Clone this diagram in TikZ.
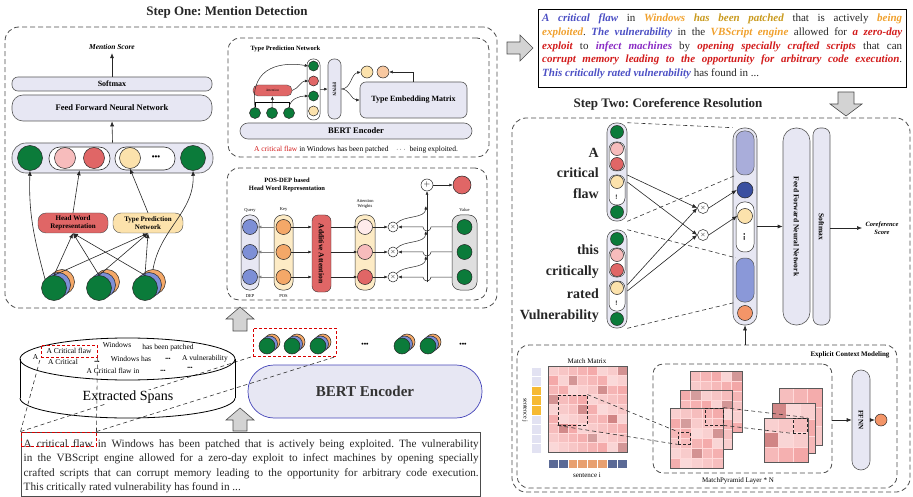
\documentclass[tikz,border=0pt]{standalone}
\usepackage{fontspec}
\setmainfont{Liberation Serif}
\usetikzlibrary{arrows.meta,calc}
\definecolor{lav}{HTML}{E7E7F3}
\definecolor{gG}{HTML}{0B7B3A}
\definecolor{gPink}{HTML}{F7BCBC}
\definecolor{gRed}{HTML}{E06666}
\definecolor{gYel}{HTML}{FCE2AC}
\definecolor{gOra}{HTML}{F4A868}
\definecolor{gBlue}{HTML}{7D8FD6}
\definecolor{gPeach}{HTML}{F8C8A0}
\definecolor{gArr}{HTML}{D3D3D3}
\definecolor{tB}{HTML}{4B4FC4}
\definecolor{tO}{HTML}{F0A02C}
\definecolor{tG}{HTML}{C99A1E}
\definecolor{tR}{HTML}{D21B1B}
\definecolor{tP}{HTML}{8A2BC4}
\definecolor{bLav}{HTML}{A9ADDA}
\definecolor{bDB}{HTML}{3A4FA0}
\definecolor{bMB}{HTML}{8A98D8}
\definecolor{bOr}{HTML}{F39568}
\definecolor{sBl}{HTML}{5B6A96}
\definecolor{sOr}{HTML}{E8A070}
\definecolor{sYe}{HTML}{F6B932}
\definecolor{sLv}{HTML}{E2E2F2}
\definecolor{hmA}{HTML}{EE8080}
\definecolor{hmD}{HTML}{A85858}
\newcommand\bx[7]{%
  \pgfmathsetmacro\bxw{#4-#2}\pgfmathsetmacro\bxh{#5-#3}%
  \node[inner sep=0pt, minimum width=\bxw pt, minimum height=\bxh pt, #6] (#1) at ({(#2+#4)/2},{(#3+#5)/2}) {#7};}
\newcommand\stk[6]{%
  \node[circ, fill=gOra, minimum size=#4pt] (#1o) at ({#2+2*#5},{#3-2*#6}) {};
  \node[circ, fill=gBlue, minimum size=#4pt] (#1b) at ({#2+#5},{#3-#6}) {};
  \node[circ, fill=gG, minimum size=#4pt] (#1) at (#2,#3) {};}
\newcommand\hmap[7]{%
  \pgfmathsetmacro\hcw{(#3-#1)/#5}\pgfmathsetmacro\hch{(#4-#2)/#6}%
  \foreach \i in {1,...,#5}{\foreach \j in {1,...,#6}{%
    \pgfmathtruncatemacro\pp{mod(\i*47+\j*29+#7*13,40)+30}%
    \pgfmathtruncatemacro\kk{mod(\i*7+\j*11+#7*5,8)==0 ? 45 : 0}%
    \fill[hmA!\pp!white] ({#1+(\i-1)*\hcw},{#2+(\j-1)*\hch}) rectangle ({#1+\i*\hcw},{#2+\j*\hch});
    \fill[hmD, opacity=\kk/100] ({#1+(\i-1)*\hcw},{#2+(\j-1)*\hch}) rectangle ({#1+\i*\hcw},{#2+\j*\hch});}}%
  \foreach \i in {1,...,#5}{\draw[white!85!red, line width=0.4pt] ({#1+\i*\hcw},#2) -- ({#1+\i*\hcw},#4);}%
  \foreach \j in {1,...,#6}{\draw[white!85!red, line width=0.4pt] (#1,{#2+\j*\hch}) -- (#3,{#2+\j*\hch});}%
  \draw[gray!70!black, line width=0.5pt] (#1,#2) rectangle (#3,#4);}
\newcommand\tcB[1]{{\color{tB}\bfseries\itshape #1}}
\newcommand\tcO[1]{{\color{tO}\bfseries\itshape #1}}
\newcommand\tcG[1]{{\color{tG}\bfseries\itshape #1}}
\newcommand\tcR[1]{{\color{tR}\bfseries\itshape #1}}
\newcommand\tcP[1]{{\color{tP}\bfseries\itshape #1}}
\frenchspacing
\begin{document}
\begin{tikzpicture}[x=1pt,y=-1pt,
  lavbox/.style={draw=gray!70!black, fill=lav, line width=0.6pt},
  dpanel/.style={draw=black!70, dash pattern=on 5pt off 3pt, rounded corners=14pt, line width=0.8pt},
  circ/.style={circle, draw=black!85, line width=0.5pt, inner sep=0pt},
  arr/.style={-{Latex[length=5pt,width=4pt]}, line width=0.6pt, black!85},
  sarr/.style={-{Latex[length=3.5pt,width=3pt]}, line width=0.5pt, black!85},
  dline/.style={dash pattern=on 4pt off 3pt, line width=0.6pt, black!80},
  rdash/.style={draw=red!85!black, dash pattern=on 3pt off 2pt, line width=0.9pt},
  garrow/.style={fill=gArr, draw=black!70, line width=0.6pt},
  ttl/.style={font=\bfseries\fontsize{13}{15}\selectfont, text=black!85}]
\useasboundingbox (0,0) rectangle (913,497);

% ================= STEP ONE =================
\node[ttl] (t1) at (227,12) {Step One: Mention Detection};
\bx{p1}{5}{27}{497}{308}{dpanel}{}

\node[font=\bfseries\itshape\fontsize{7.5}{9}\selectfont] (ms) at (112,47) {Mention Score};
\bx{sm}{12}{77}{212}{91}{lavbox, rounded corners=6pt, font=\bfseries\fontsize{8}{9}\selectfont}{Softmax}
\bx{ffn}{12}{95}{212}{121}{lavbox, rounded corners=11pt, font=\bfseries\fontsize{8.5}{10}\selectfont}{Feed Forward Neural Network}
\draw[arr] (sm.north) -- (ms.south);
\bx{row}{12}{143}{213}{173}{lavbox, rounded corners=14pt}{}
\draw[arr] (row.north) -- (ffn.south);
\node[circ, fill=gG, minimum size=25pt] (c1) at (30,158) {};
\bx{wp1}{49}{147}{110}{170}{draw=black!80, fill=white, line width=0.6pt, rounded corners=11pt}{}
\node[circ, fill=gPink, minimum size=21pt] (c2) at (65,158) {};
\node[circ, fill=gRed, minimum size=21pt] (c3) at (94,158) {};
\bx{wp2}{115}{147}{175}{170}{draw=black!80, fill=white, line width=0.6pt, rounded corners=11pt}{}
\node[circ, fill=gYel, minimum size=21pt] (c4) at (130,158) {};
\node[font=\bfseries\fontsize{8}{8}\selectfont] (c5) at (156,158) {\textbullet\textbullet\textbullet};
\node[circ, fill=gG, minimum size=25pt] (c6) at (193,158) {};

\bx{hwr}{38}{213}{108}{233}{draw=black!70, fill=gRed, rounded corners=8pt, font=\bfseries\fontsize{7}{8}\selectfont, align=center}{Head Word\\Representation}
\bx{tpn}{113}{213}{183}{233}{draw=black!70, fill=gYel, rounded corners=8pt, font=\bfseries\fontsize{7}{8}\selectfont, align=center}{Type Prediction\\Network}

\stk{s1}{54}{288}{25}{4}{3}
\stk{s2}{99}{288}{25}{4}{3}
\stk{s3}{145}{288}{25}{4}{3}
\foreach \s in {s1,s2,s3}{
  \draw[arr] (\s.north) -- (hwr.south);
  \draw[arr] (\s.north) -- (tpn.south);}
\draw[arr] (s1.north west) to[out=105,in=-92] (c1.south);
\draw[arr] (s3o.north) to[out=80,in=-88] (c6.south);
\draw[arr] (hwr.north) -- (wp1.south);
\draw[arr] (tpn.north) -- (c4.south);

% --- Type prediction network sub-box
\bx{tpbox}{228}{38}{489}{157}{dpanel, rounded corners=12pt}{}
\node[anchor=west, font=\bfseries\fontsize{6.5}{8}\selectfont] (tpt) at (247,49) {Type Prediction Network};
\node[circ, fill=gG, minimum size=11pt] (g1) at (255,113) {};
\node[circ, fill=gG, minimum size=11pt] (g2) at (272,113) {};
\node[circ, fill=gG, minimum size=11pt] (g3) at (289,113) {};
\bx{att}{253}{85}{292}{96}{draw=black!70, fill=gRed, rounded corners=5pt, font=\fontsize{3.5}{4}\selectfont}{Attention}
\bx{col}{307}{59}{320}{120}{draw=black!80, fill=white, line width=0.5pt, rounded corners=6pt}{}
\node[circ, fill=gG, minimum size=10pt] (k1) at (313.5,66) {};
\node[circ, fill=gRed, minimum size=10pt] (k2) at (313.5,81) {};
\node[circ, fill=gG, minimum size=10pt] (k3) at (313.5,96) {};
\node[circ, fill=gYel, minimum size=10pt] (k4) at (313.5,111) {};
\bx{tff}{328}{59}{341}{119}{lavbox, rounded corners=6pt, font=\bfseries\fontsize{5}{6}\selectfont}{\rotatebox{-90}{FFNN}}
\node[circ, fill=gYel, minimum size=12pt] (q1) at (367,72) {};
\node[circ, fill=gPeach, minimum size=12pt] (q2) at (383,72) {};
\bx{tem}{360}{82}{467}{118}{lavbox, rounded corners=6pt, font=\bfseries\fontsize{8}{9}\selectfont}{Type Embedding Matrix}
\bx{bs}{240}{123}{472}{139}{lavbox, rounded corners=8pt, font=\bfseries\fontsize{8.5}{9}\selectfont}{BERT Encoder}
\node[font=\fontsize{7.5}{9}\selectfont] (cap) at (356,150) {\textcolor{tR}{A critical flaw} in Windows has been patched\quad $\cdots$\ \ being exploited.};
\draw[sarr] (g1.north) .. controls (249,64) and (285,62) .. (k1.west);
\draw (g1.north) |- ($(att.south)+(0,6)$) -| (g3.north);
\draw[sarr] (g2.north) -- (att.south);
\draw[sarr] (att.east) to[out=20,in=180] (k2.west);
\draw[sarr] (g3.north) to[out=80,in=180] (k3.west);
\draw[sarr] (col.east) -- (tff.west);
\draw[sarr] (tff.east) to[out=0,in=190] (q1.west);
\draw[sarr] (tff.east) to[out=0,in=180] (tem.west);
\draw[sarr] (tem.north) |- (q2.east);

% --- Head word sub-box
\bx{hwbox}{227}{168}{487}{300}{dpanel, rounded corners=12pt}{}
\node[font=\bfseries\fontsize{6.5}{7.5}\selectfont, align=center] (hwt) at (287,185) {POS-DEP based\\Head Word Representation};
\bx{qp}{241}{215}{259}{290}{draw=black!80, fill=lav, line width=0.5pt, rounded corners=8pt}{}
\bx{kp}{274}{215}{293}{290}{draw=black!80, fill=gYel!70, line width=0.5pt, rounded corners=8pt}{}
\bx{add}{312}{215}{331}{292}{draw=black!80, fill=gRed, rounded corners=6pt, font=\bfseries\fontsize{7.5}{8}\selectfont}{\rotatebox{-90}{Additive Attention}}
\bx{awp}{355}{215}{375}{290}{draw=black!80, fill=gYel!70, line width=0.5pt, rounded corners=8pt}{}
\bx{vp}{452}{215}{477}{290}{draw=black!80, fill=gray!25, line width=0.5pt, rounded corners=8pt}{}
\node[font=\fontsize{4.5}{5}\selectfont] (qlab) at (250,210) {Query};
\node[font=\fontsize{4.5}{5}\selectfont] (qdep) at (250,296) {DEP};
\node[font=\fontsize{4.5}{5}\selectfont] (klab) at (283.5,210) {Key};
\node[font=\fontsize{4.5}{5}\selectfont] (kpos) at (283.5,296) {POS};
\node[font=\fontsize{4.5}{5}\selectfont, align=center] (awlab) at (365,204) {Attention\\Weights};
\node[font=\fontsize{4.5}{5}\selectfont] (vlab) at (464.5,210) {Value};
\node[circ, minimum size=12pt, font=\fontsize{8}{8}\selectfont] (plus) at (427,185) {$+$};
\node[circ, fill=gRed, minimum size=18pt] (rr) at (462,185) {};
\foreach \r/\yy/\wc in {a/227/red!8, b/252/gPink, c/277/gRed}{
  \node[circ, fill=gBlue, minimum size=15pt] (q\r) at (250,\yy) {};
  \node[circ, fill=gOra, minimum size=15pt] (k\r) at (283.5,\yy) {};
  \node[circ, fill=\wc, minimum size=15pt] (w\r) at (365,\yy) {};
  \node[circ, fill=gG, minimum size=15pt] (v\r) at (464.5,\yy) {};
  \node[circ, fill=white, minimum size=10pt, font=\fontsize{6}{6}\selectfont] (x\r) at (393,\yy) {$\times$};
  \draw[sarr, gray] (kp.west |- k\r) -- (q\r.east);
  \draw[sarr] (k\r.east) -- (add.west |- k\r);
  \draw[sarr] (add.east |- w\r) -- (w\r.west);
  \draw[sarr] (w\r.east) -- (x\r.west);
  \draw[sarr] (vp.west |- v\r) -- (431,\yy) arc[start angle=0,end angle=180,radius=4] -- (x\r.east);
  \draw[sarr] (x\r.north east) .. controls (404,\yy-12) and (425,\yy-8) .. (426,\yy-21);
}
\draw[sarr] (plus.south |- xc.south) -- (plus.south);
\draw[sarr] (plus.east) -- (rr.west);

% ================= BOTTOM LEFT =================
\bx{tk}{253}{328}{336}{356}{rdash}{}
\stk{ta}{267}{346}{16}{2.5}{2}
\stk{tb}{292}{346}{16}{2.5}{2}
\stk{tc}{318}{346}{16}{2.5}{2}
\node[font=\bfseries\fontsize{7}{7}\selectfont] (td1) at (365,345) {\textbullet\textbullet\textbullet};
\stk{td}{402}{346}{16}{2.5}{2}
\stk{te}{428}{346}{16}{2.5}{2}
\node[font=\bfseries\fontsize{7}{7}\selectfont] (td2) at (463,345) {\textbullet\textbullet\textbullet};
\bx{bert}{248}{365}{482}{418}{draw=blue!45!gray, fill=lav, line width=0.7pt, rounded corners=26pt, font=\bfseries\fontsize{15}{17}\selectfont, text=black!80}{BERT Encoder}

% text box
\bx{tb0}{21}{432}{480}{496}{draw=black!70, line width=0.6pt}{}
\node[anchor=north west, inner sep=0pt, text width=455pt, align=justify, font=\fontsize{11.2}{14.5}\selectfont, text=black!85] (btxt) at (23.5,439) {A critical flaw in Windows has been patched that is actively being exploited. The vulnerability\linebreak in the VBScript engine allowed for a zero-day exploit to infect machines by opening specially\linebreak crafted scripts that can corrupt memory leading to the opportunity for arbitrary code execution.\linebreak This critically rated vulnerability has found in ...};
\bx{tr}{21}{432}{96}{446}{rdash}{}

% dashed projection lines
\draw[dline] (tr.north east) -- (tk.south east);
\draw[dline] (tr.north west) -- (tk.south west);

% cylinder
\begin{scope}
\clip (10,398) rectangle (245,425);
\draw[line width=0.8pt] (127.5,398) ellipse [x radius=107.5, y radius=20];
\end{scope}
\draw[line width=0.8pt] (20,359) -- (20,398) (235,359) -- (235,398);
\draw[line width=0.8pt] (127.5,359) ellipse [x radius=107.5, y radius=21];
\node[font=\fontsize{14}{16}\selectfont, fill=white, inner sep=1pt] (es) at (128,397) {Extracted Spans};
\bx{cr}{41}{345}{97}{357}{rdash}{}
\draw[dline] (tr.north west) -- (cr.south west);
\draw[dline] (tr.north east) -- (cr.south east);
\begin{scope}[every node/.style={font=\fontsize{7.5}{8}\selectfont, inner sep=0.5pt}]
\node (sA0) at (69,351) {A Critical flaw};
\node (sA1) at (35.5,357) {A};
\node (sA2) at (63,362) {A Critical};
\node (sW1) at (117,345) {Windows};
\node (sW2) at (168,348) {has been patched};
\node[font=\bfseries\fontsize{5}{5}\selectfont] (sd1) at (97,362) {\textbullet\textbullet\textbullet};
\node (sW3) at (131,359) {Windows has};
\node[font=\bfseries\fontsize{5}{5}\selectfont] (sd2) at (168,359) {\textbullet\textbullet\textbullet};
\node (sW4) at (205,359) {A vulnerability};
\node (sW5) at (113,371) {A Critical flaw in};
\node[font=\bfseries\fontsize{5}{5}\selectfont] (sd3) at (163,371) {\textbullet\textbullet\textbullet};
\node[font=\bfseries\fontsize{5}{5}\selectfont] (sd4) at (190,368) {\textbullet\textbullet\textbullet};
\end{scope}

% gray block arrows
\draw[garrow] (233,331) -- (233,319) -- (226,319) -- (240,307) -- (254,319) -- (247,319) -- (247,331) -- cycle;
\draw[garrow] (233,431) -- (233,420) -- (226,420) -- (240,408) -- (254,420) -- (247,420) -- (247,431) -- cycle;
\draw[garrow] (507,42) -- (520,42) -- (520,35) -- (533,48) -- (520,61) -- (520,54) -- (507,54) -- cycle;
\draw[garrow] (838,92) -- (854,92) -- (854,104) -- (862,104) -- (846,116) -- (830,104) -- (838,104) -- cycle;

% ================= TOP RIGHT TEXT =================
\bx{ttb}{538}{9}{906}{87}{draw=black, line width=0.8pt}{}
\node[anchor=north west, inner sep=0pt, text width=360pt, align=justify, font=\fontsize{11}{13.6}\selectfont, text=black!85] (ttx) at (542,14) {\tcB{A critical flaw} in \tcO{Windows} \tcG{has been patched} that is actively \tcO{being}\linebreak \tcO{exploited}. \tcB{The vulnerability} in the \tcO{VBScript engine} allowed for \tcR{a zero-day}\linebreak \tcR{exploit} to \tcP{infect machines} by \tcR{opening specially crafted scripts} that can\linebreak \tcR{corrupt memory leading to the opportunity for arbitrary code execution}.\linebreak \tcB{This critically rated vulnerability} has found in ...};

% ================= STEP TWO =================
\node[ttl] (t2) at (668,104) {Step Two: Coreference Resolution};
\bx{p2}{512}{118}{910}{492}{dpanel}{}

\bx{m1}{607}{123}{627}{221}{lavbox, rounded corners=9pt}{}
\bx{m1p1}{609}{142}{625}{171}{draw=black!80, fill=white, line width=0.5pt, rounded corners=7pt}{}
\bx{m1p2}{609}{175}{625}{205}{draw=black!80, fill=white, line width=0.5pt, rounded corners=7pt}{}
\node[circ, fill=gG, minimum size=13pt] (m1a) at (617,132) {};
\node[circ, fill=gPink, minimum size=13pt] (m1b) at (617,149) {};
\node[circ, fill=gRed, minimum size=13pt] (m1c) at (617,164) {};
\node[circ, fill=gYel, minimum size=13pt] (m1d) at (617,182) {};
\node[font=\fontsize{5}{5}\selectfont] (m1dots) at (617,197) {\rotatebox{90}{\textbullet\textbullet\textbullet}};
\node[circ, fill=gG, minimum size=13pt] (m1e) at (617,212) {};

\bx{m2}{607}{230}{627}{328}{lavbox, rounded corners=9pt}{}
\bx{m2p1}{609}{248}{625}{277}{draw=black!80, fill=white, line width=0.5pt, rounded corners=7pt}{}
\bx{m2p2}{609}{281}{625}{311}{draw=black!80, fill=white, line width=0.5pt, rounded corners=7pt}{}
\node[circ, fill=gG, minimum size=13pt] (m2a) at (617,239) {};
\node[circ, fill=gPink, minimum size=13pt] (m2b) at (617,255) {};
\node[circ, fill=gRed, minimum size=13pt] (m2c) at (617,270) {};
\node[circ, fill=gYel, minimum size=13pt] (m2d) at (617,288) {};
\node[font=\fontsize{5}{5}\selectfont] (m2dots) at (617,303) {\rotatebox{90}{\textbullet\textbullet\textbullet}};
\node[circ, fill=gG, minimum size=13pt] (m2e) at (617,319) {};

\begin{scope}[every node/.style={anchor=east, font=\bfseries\fontsize{14}{16}\selectfont, text=black!85, inner sep=0pt}]
\node (lA) at (599,153) {A};
\node (lcr) at (599,173) {critical};
\node (lfl) at (599,194) {flaw};
\node (lth) at (599,250) {this};
\node (lcy) at (599,272) {critically};
\node (lra) at (599,294) {rated};
\node (lvu) at (599,316) {Vulnerability};
\end{scope}

\node[circ, fill=white, minimum size=11pt, font=\fontsize{6}{6}\selectfont] (o1) at (703,208) {$\times$};
\node[circ, fill=white, minimum size=11pt, font=\fontsize{6}{6}\selectfont] (o2) at (703,235) {$\times$};

\bx{bc}{733}{128}{757}{325}{lavbox, rounded corners=11pt}{}
\bx{br1}{736}{131}{754}{175}{draw=gray!70!black, fill=bLav, line width=0.5pt, rounded corners=8pt}{}
\node[circ, fill=bDB, minimum size=16pt] (b2) at (745,190) {};
\bx{bp}{736}{202}{754}{252}{draw=black!80, fill=white, line width=0.5pt, rounded corners=8pt}{}
\node[circ, fill=gYel, minimum size=15pt] (b3) at (745,216) {};
\node[font=\bfseries\fontsize{6}{6}\selectfont] (bdots) at (745,237) {\rotatebox{90}{\textbullet\textbullet\textbullet}};
\bx{br2}{736}{258}{754}{302}{draw=gray!70!black, fill=bMB, line width=0.5pt, rounded corners=8pt}{}
\node[circ, fill=bOr, minimum size=15pt] (b4) at (745,313) {};

\draw[arr] (m1.east |- 0,175) -- (o1.west);
\draw[arr] (m1.east |- 0,182) -- (o2.west);
\draw[arr] (m2.east |- 0,285) -- (o1.west);
\draw[arr] (m2.east |- 0,291) -- (o2.west);
\draw[arr] (o1.east) -- (b2.west);
\draw[arr] (o2.east) -- (b3.west);
\draw[dline] (m1.north east) -- (bc.north west);
\draw[dline] (m1.south east) -- (br1.south west);
\draw[dline] (m2.north east) -- (br2.north west);
\draw[dline] (m2.south east) -- (br2.south west);

\bx{cff}{783}{128}{810}{325}{lavbox, rounded corners=13pt, font=\bfseries\fontsize{7.5}{9}\selectfont}{\rotatebox{-90}{Feed Forward Neural Network}}
\bx{csm}{813}{128}{830}{325}{lavbox, rounded corners=7pt, font=\bfseries\fontsize{7.5}{9}\selectfont}{\rotatebox{-90}{Softmax}}
\node[font=\bfseries\itshape\fontsize{6.5}{8}\selectfont, align=center] (cs) at (882,228) {Coreference\\Score};
\draw[arr] (bc.east) -- (cff.west);
\draw[arr] (csm.east |- cs) -- (cs.west);

% ================= EXPLICIT CONTEXT =================
\bx{ecm}{517}{345}{897}{488}{dpanel, rounded corners=12pt}{}
\draw[arr] (ecm.north -| bc.south) -- (bc.south);
\node[anchor=east, font=\bfseries\fontsize{7}{8}\selectfont] (ecmt) at (893,355) {Explicit Context Modeling};
\node[font=\fontsize{7}{8}\selectfont] (mmt) at (587,361) {Match Matrix};
\foreach \k in {1,...,9}{
  \pgfmathsetmacro\ya{367+(\k-1)*9.55}
  \ifnum\k<3 \def\cc{sLv}\else\ifnum\k<6 \def\cc{sYe}\else\def\cc{sLv}\fi\fi
  \fill[\cc] (532,\ya) rectangle (541,\ya+9.55);
  \draw[white, line width=0.4pt] (532,\ya) -- (541,\ya);
}
\node[font=\fontsize{6}{7}\selectfont, rotate=-90] (sj) at (525,410) {sentence j};
\hmap{548}{366}{627}{452}{8}{9}{1}
\foreach \k/\cc in {1/sBl,2/sBl,3/sOr,4/sOr,5/sOr,6/sOr,7/sBl,8/sBl}{
  \fill[\cc] ({548+(\k-1)*9.875},460) rectangle ({548+\k*9.875},468);
  \draw[white, line width=0.4pt] ({548+(\k-1)*9.875},460) -- ({548+(\k-1)*9.875},468);
}
\node[font=\fontsize{7}{8}\selectfont] (si) at (587,475) {sentence i};
\bx{mb}{558}{395}{587}{425}{draw=black!85, dash pattern=on 3pt off 2pt, line width=0.9pt}{}

\bx{mp}{653}{364}{832}{473}{dpanel, rounded corners=10pt}{}
\node[font=\fontsize{7}{8}\selectfont] (mpl) at (738,481) {MatchPyramid Layer * N};
\hmap{690}{371}{742}{432}{5}{6}{2}
\hmap{680}{390}{732}{449}{5}{6}{3}
\hmap{670}{408}{723}{468}{5}{6}{4}
\hmap{779}{388}{822}{445}{3}{3}{5}
\hmap{772}{403}{815}{453}{3}{3}{6}
\hmap{764}{418}{808}{462}{3}{3}{7}
\bx{fb1}{678}{432}{690}{444}{draw=black!85, dash pattern=on 3pt off 2pt, line width=0.8pt}{}
\bx{fb2}{705}{408}{723}{425}{draw=black!85, dash pattern=on 3pt off 2pt, line width=0.8pt}{}
\bx{fb3}{793}{418}{807}{433}{draw=black!85, dash pattern=on 3pt off 2pt, line width=0.8pt}{}
\draw[dline] (mb.north east) -- (fb1.north west);
\draw[dline] (mb.south west) -- (fb1.south west);
\draw[dline] (fb2.north east) -- (fb3.north east);
\draw[dline] (fb2.south east) -- (fb3.south west);

\bx{ff2}{852}{370}{870}{470}{lavbox, rounded corners=9pt, font=\bfseries\fontsize{7}{8}\selectfont}{\rotatebox{-90}{FFNN}}
\node[circ, fill=bOr, minimum size=12pt] (oc) at (881,420) {};
\draw[arr] (mp.east |- ff2.west) -- (ff2.west);
\draw[arr] (ff2.east) -- (oc.west);
\end{tikzpicture}
\end{document}
